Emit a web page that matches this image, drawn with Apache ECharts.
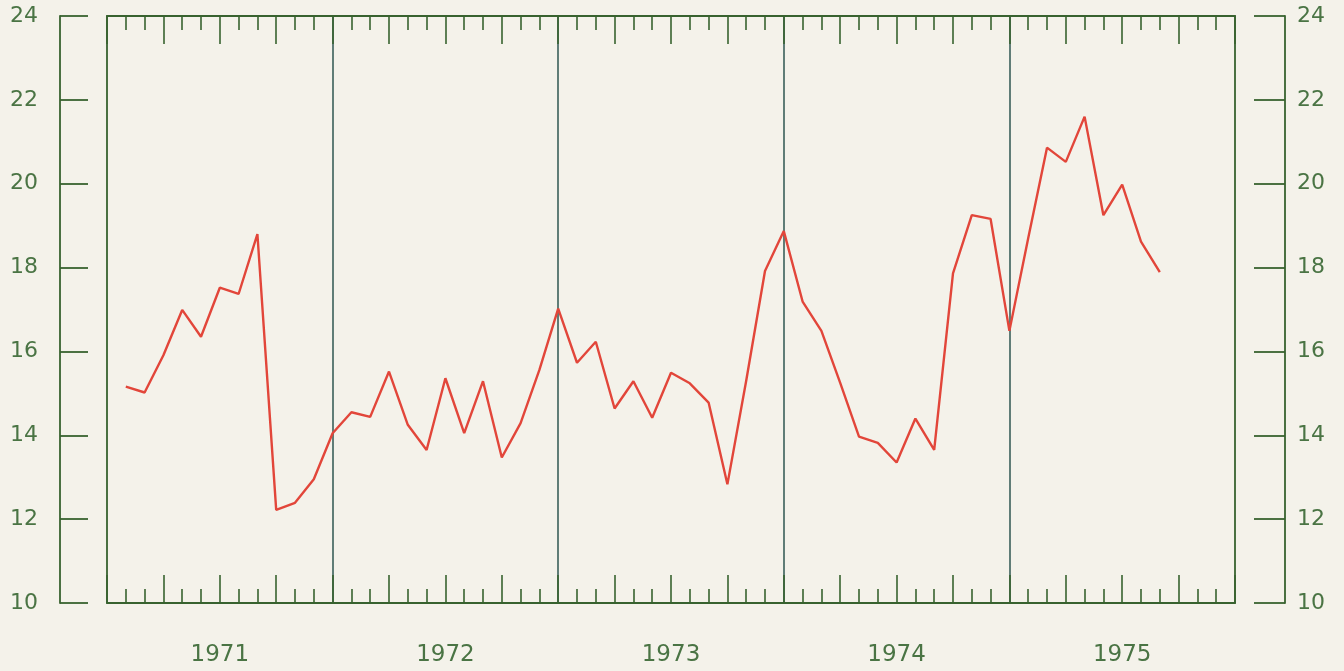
<!DOCTYPE html>
<html>
<head>
<meta charset="utf-8">
<script src="https://cdn.jsdelivr.net/npm/echarts@6/dist/echarts.min.js"></script>
<style>
  html, body { margin: 0; padding: 0; background: #f4f2ea; }
  #chart { width: 1344px; height: 671px; }
</style>
</head>
<body>
<div id="chart"></div>
<script>
// Monthly readings, Jan 1971 onward (month index 1 = first point)
const values = [
  15.16, 15.02, 15.91, 16.99, 16.35, 17.52, 17.37, 18.80, 12.22, 12.39, 12.95, 14.05,
  14.55, 14.44, 15.52, 14.25, 13.65, 15.36, 14.05, 15.29, 13.47, 14.29, 15.56, 17.02,
  15.73, 16.23, 14.64, 15.29, 14.42, 15.49, 15.24, 14.78, 12.83, 15.30, 17.92, 18.87,
  17.19, 16.49, 15.25, 13.97, 13.82, 13.35, 14.40, 13.65, 17.86, 19.25, 19.16, 16.49,
  18.70, 20.86, 20.52, 21.60, 19.25, 19.98, 18.62, 17.89
];
const years = ['1971', '1972', '1973', '1974', '1975'];
const yTicks = [10, 12, 14, 16, 18, 20, 22, 24];

const INK = '#38622f';
const YEARLINE = '#3a5f5a';
const TEXT = '#4a7444';
const LINE = '#e2463a';

const monthsPerYear = 12;
const totalMonths = years.length * monthsPerYear;
const points = values.map((v, i) => [i + 1, v]);

const yFont = { fontFamily: 'DejaVu Sans', fontSize: 22, color: TEXT };
const xFont = { fontFamily: 'DejaVu Sans', fontSize: 23, color: TEXT };

function frameAxis(position) {
  return {
    type: 'value', position: position, min: 0, max: totalMonths, interval: 3,
    axisLine: { show: true, onZero: false, lineStyle: { color: INK, width: 1.8 } },
    axisTick: { show: true, inside: true, length: 28, lineStyle: { color: INK, width: 1.6 } },
    minorTick: { show: true, splitNumber: 3, length: 14, lineStyle: { color: INK, width: 1.6 } },
    axisLabel: { show: false },
    splitLine: { show: false }
  };
}

function bracketAxis(position, offset, tickLen, margin) {
  return {
    type: 'value', position: position, offset: offset,
    min: yTicks[0], max: yTicks[yTicks.length - 1], interval: 2,
    axisLine: { show: true, onZero: false, lineStyle: { color: INK, width: 1.8 } },
    axisTick: { show: true, inside: true, length: tickLen, lineStyle: { color: INK, width: 1.8 } },
    axisLabel: Object.assign({ margin: margin, padding: [4, 0, 0, 0] }, yFont),
    splitLine: { show: false }
  };
}

function edgeAxis(position) {
  return {
    type: 'value', position: position, offset: 0, min: yTicks[0], max: yTicks[yTicks.length - 1],
    axisLine: { show: true, onZero: false, lineStyle: { color: INK, width: 1.8 } },
    axisTick: { show: false }, axisLabel: { show: false }, splitLine: { show: false }
  };
}

const chart = echarts.init(document.getElementById('chart'), null, { renderer: 'canvas' });
chart.setOption({
  backgroundColor: '#f4f2ea',
  animation: false,
  grid: { left: 107, right: 109, top: 16, bottom: 68, containLabel: false },
  xAxis: [
    frameAxis('bottom'),
    frameAxis('top'),
    {
      // year captions centred in each year
      type: 'value', position: 'bottom', min: 0, max: totalMonths, interval: 6,
      axisLine: { show: false, onZero: false }, axisTick: { show: false },
      axisLabel: Object.assign({
        show: true, margin: 41,
        formatter: function (v) {
          if (v % monthsPerYear === 6) return years[(v - 6) / monthsPerYear];
          return '';
        }
      }, xFont),
      splitLine: { show: false }
    },
    {
      // year separators
      type: 'value', position: 'bottom', min: 0, max: totalMonths, interval: monthsPerYear,
      axisLine: { show: false, onZero: false }, axisTick: { show: false }, axisLabel: { show: false },
      splitLine: { show: true, showMinLine: false, showMaxLine: false,
        lineStyle: { color: YEARLINE, width: 1.6 } }
    }
  ],
  yAxis: [
    bracketAxis('left', 47, 28, 22),
    bracketAxis('right', 50, 31, 12),
    edgeAxis('left'),
    edgeAxis('right')
  ],
  series: [{
    type: 'line',
    xAxisIndex: 0, yAxisIndex: 0,
    data: points,
    showSymbol: false,
    smooth: false,
    lineStyle: { color: LINE, width: 2.4 },
    z: 5
  }]
});
</script>
</body>
</html>
